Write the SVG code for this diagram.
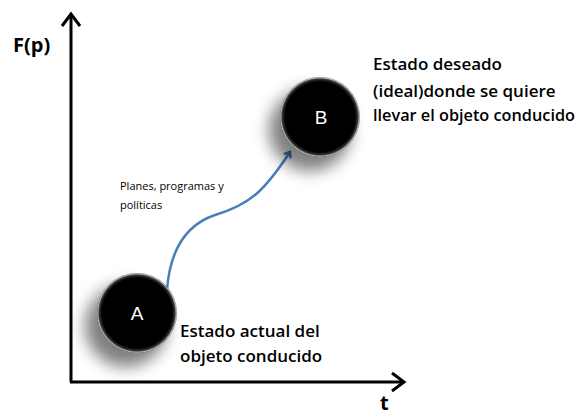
<svg xmlns="http://www.w3.org/2000/svg" width="582" height="415" viewBox="0 0 582 415">
<style>
.ax{stroke:#000;stroke-width:3;fill:none}
.lbl{font-family:"Open Sans","Liberation Sans",sans-serif;fill:#000}
.big{font-size:17px;font-weight:600}
.node-t{font-family:"Liberation Sans",sans-serif;font-size:19px;fill:#fff;text-anchor:middle}
</style>
<defs>
<radialGradient id="sph" cx="50%" cy="50%" r="50%">
<stop offset="0.88" stop-color="#000"/>
<stop offset="0.95" stop-color="#3a3a3a"/>
<stop offset="0.98" stop-color="#bbb"/>
<stop offset="1" stop-color="#666"/>
</radialGradient>
<filter id="sh" x="-60%" y="-60%" width="220%" height="220%">
<feGaussianBlur stdDeviation="8"/>
</filter>
<marker id="blue" markerWidth="10" markerHeight="10" refX="6" refY="5" orient="auto" markerUnits="userSpaceOnUse">
<path d="M1,1 L6,5 L1,9" fill="none" stroke="#4a7ebb" stroke-width="2.5"/>
</marker>
</defs>
<g id="axes">
<path class="ax" d="M71,382 V14"/>
<path class="ax" d="M62,26 L71,14 L80,26"/>
<path class="ax" d="M70,382 H404"/>
<path class="ax" d="M392,373 L404,382 L392,391"/>
<text class="lbl" x="13" y="52" font-size="20" font-weight="bold">F(p)</text>
<text class="lbl" x="380" y="410" font-size="20" font-weight="bold">t</text>
</g>
<g id="connectors">
<path d="M167,290 C170,250 185,225 215,215 C250,205 265,190 290,152" fill="none" stroke="#4a7ebb" stroke-width="2.5" marker-end="url(#blue)"/>
<text class="lbl" x="120" y="190" font-size="11" font-weight="500">Planes, programas y</text>
<text class="lbl" x="120" y="209" font-size="11" font-weight="500">políticas</text>
</g>
<g id="nodeA">
<circle cx="126" cy="326" r="41" fill="#000" opacity="0.5" filter="url(#sh)"/>
<circle cx="137" cy="313" r="40" fill="url(#sph)"/>
<text class="node-t" x="137" y="320">A</text>
<text class="lbl big" x="180" y="337">Estado actual del</text>
<text class="lbl big" x="180" y="362">objeto conducido</text>
</g>
<g id="nodeB">
<circle cx="310" cy="130" r="41" fill="#000" opacity="0.5" filter="url(#sh)"/>
<circle cx="320" cy="117" r="40" fill="url(#sph)"/>
<text class="node-t" x="321" y="124">B</text>
<text class="lbl big" x="373" y="70">Estado deseado</text>
<text class="lbl big" x="373" y="97">(ideal)donde se quiere</text>
<text class="lbl big" x="373" y="121" textLength="202" lengthAdjust="spacingAndGlyphs">llevar el objeto conducido</text>
</g>
</svg>
